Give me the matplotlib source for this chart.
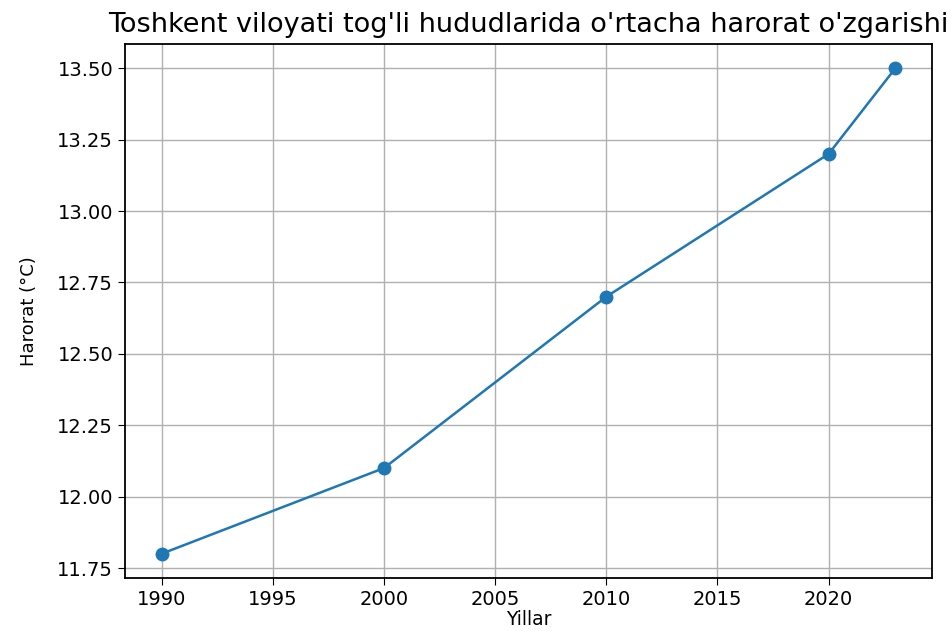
import matplotlib
matplotlib.use("Agg")
from matplotlib import pyplot as plt

# Yillar va o'rtacha harorat
years = [1990, 2000, 2010, 2020, 2023]
temps = [11.8, 12.1, 12.7, 13.2, 13.5]

fig = plt.figure(figsize=(9.48, 6.34), dpi=100)
ax = fig.add_axes([125/948, 1 - 578/634, (932 - 125)/948, (578 - 44)/634])

ax.plot(years, temps, marker='o', color='#1f77b4', linewidth=1.8, markersize=9)

ax.set_title("Toshkent viloyati tog'li hududlarida o'rtacha harorat o'zgarishi",
             fontsize=19.5, pad=9)
ax.set_xlabel('Yillar', fontsize=13.5, labelpad=1)
ax.set_ylabel('Harorat (°C)', fontsize=13, labelpad=14)
ax.tick_params(labelsize=14, length=5)
ax.set_xticks([1990, 1995, 2000, 2005, 2010, 2015, 2020])
ax.yaxis.set_major_formatter(matplotlib.ticker.FormatStrFormatter('%.2f'))
ax.grid(True, color='#b0b0b0', linewidth=1.0)
for s in ax.spines.values():
    s.set_linewidth(1.3)

fig.savefig('out.png', dpi=100)
